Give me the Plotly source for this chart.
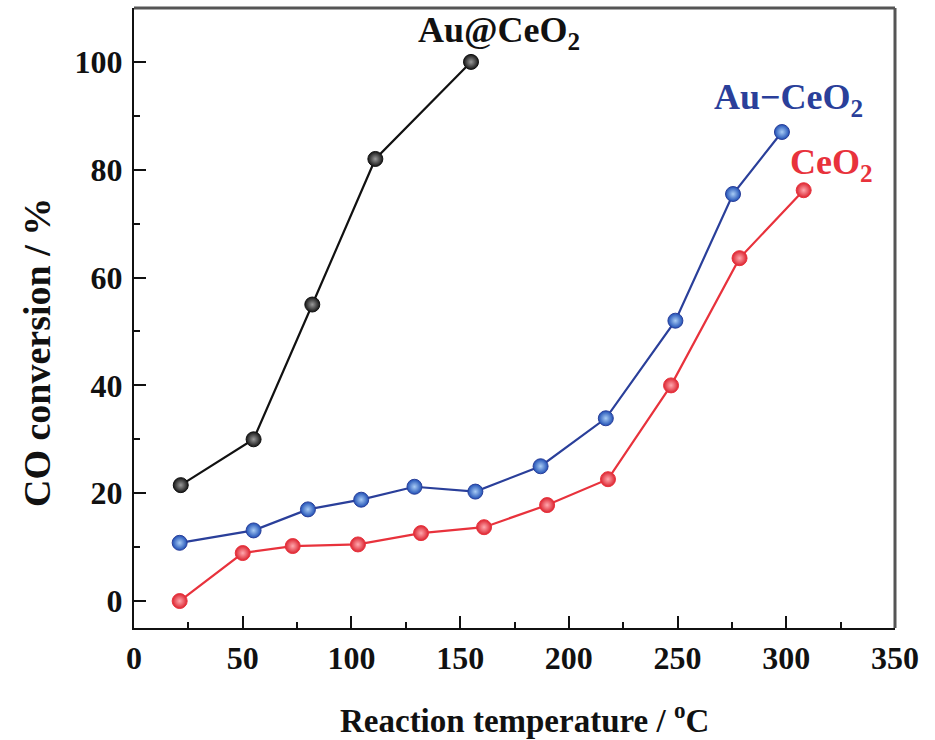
import plotly.graph_objects as go

# Data
au_at_x = [21.5, 55, 82, 111, 155]
au_at_y = [21.5, 30, 55, 82, 100]

au_ce_x = [21, 55, 80, 104.5, 129, 157, 187, 217, 249, 275.5, 298]
au_ce_y = [10.8, 13.1, 17.0, 18.8, 21.2, 20.3, 25.0, 33.9, 52.0, 75.5, 87.0]

ceo2_x = [21, 50, 73, 103, 132, 161, 190, 218, 247, 278.5, 308]
ceo2_y = [0.0, 8.9, 10.2, 10.5, 12.6, 13.7, 17.8, 22.6, 40.0, 63.6, 76.2]

FONT = "Liberation Serif"

def series(x, y, line_col, fill_col, light_col):
    return go.Scatter(
        x=x, y=y, mode="lines+markers",
        line=dict(color=line_col, width=2.2),
        marker=dict(size=15, color=fill_col,
                    gradient=dict(type="radial", color=light_col),
                    line=dict(color=line_col, width=1)),
        showlegend=False, hoverinfo="x+y",
    )

fig = go.Figure()
fig.add_trace(series(au_at_x, au_at_y, "#111111", "#151515", "#9a9a9a"))
fig.add_trace(series(au_ce_x, au_ce_y, "#2a3f9a", "#1f4fb5", "#a8ccf5"))
fig.add_trace(series(ceo2_x, ceo2_y, "#e8323c", "#dc2430", "#ffa8ae"))

lab_font = dict(family=FONT, size=36, weight="bold")
fig.add_annotation(x=168, y=105.5, xref="x", yref="y", text="Au@CeO<sub>2</sub>",
                   showarrow=False, font=dict(lab_font, color="#111111"))
fig.add_annotation(x=301, y=93, xref="x", yref="y", text="Au\u2212CeO<sub>2</sub>",
                   showarrow=False, font=dict(lab_font, color="#2a3f9a"))
fig.add_annotation(x=321, y=81, xref="x", yref="y", text="CeO<sub>2</sub>",
                   showarrow=False, font=dict(lab_font, color="#e8323c"))

# axis titles placed as paper annotations (pixel positions converted below)
fig.add_annotation(x=524, y=718, xref="paper", yref="paper", text="Reaction temperature / <sup>o</sup>C",
                   showarrow=False, font=dict(family=FONT, size=33, color="#111111", weight="bold"))
fig.add_annotation(x=37, y=353, xref="paper", yref="paper", text="CO conversion / %", textangle=-90,
                   showarrow=False, font=dict(family=FONT, size=38, color="#111111", weight="bold"))

# top and right frame (grey, as in the reference)
fig.add_shape(type="line", xref="paper", yref="paper", x0=0, x1=1, y0=1, y1=1,
              line=dict(color="#555555", width=3))
fig.add_shape(type="line", xref="paper", yref="paper", x0=1, x1=1, y0=0, y1=1,
              line=dict(color="#555555", width=3))

tick_font = dict(family=FONT, size=32, color="#111111", weight="bold")

fig.update_xaxes(
    range=[0, 350], dtick=50, tick0=0, automargin=False,
    showline=True, linecolor="#111111", linewidth=2,
    ticks="inside", ticklen=12, tickwidth=2, tickcolor="#111111",
    minor=dict(dtick=25, ticks="inside", ticklen=6, tickwidth=2, tickcolor="#111111"),
    showgrid=False, zeroline=False,
    tickfont=tick_font, ticklabelstandoff=1,
)
fig.update_yaxes(
    range=[-5, 110], dtick=20, tick0=0, automargin=False,
    showline=True, linecolor="#111111", linewidth=2,
    ticks="inside", ticklen=12, tickwidth=2, tickcolor="#111111",
    minor=dict(dtick=10, ticks="inside", ticklen=6, tickwidth=2, tickcolor="#111111"),
    showgrid=False, zeroline=False,
    tickfont=tick_font, ticklabelstandoff=3,
)

fig.update_layout(
    width=935, height=740,
    margin=dict(l=134, r=40, t=8, b=112),
    paper_bgcolor="white", plot_bgcolor="white",
)

pw = 935 - 134 - 40
ph = 740 - 8 - 112
for a in fig.layout.annotations:
    if a.xref == "paper":
        a.x = (a.x - 134) / pw
        a.y = (740 - 112 - a.y) / ph
        a.xanchor = "center"
        a.yanchor = "middle"

fig.write_html("out.html", config={"displayModeBar": False},
               post_script="document.body.style.margin='0';document.body.style.padding='0';")
